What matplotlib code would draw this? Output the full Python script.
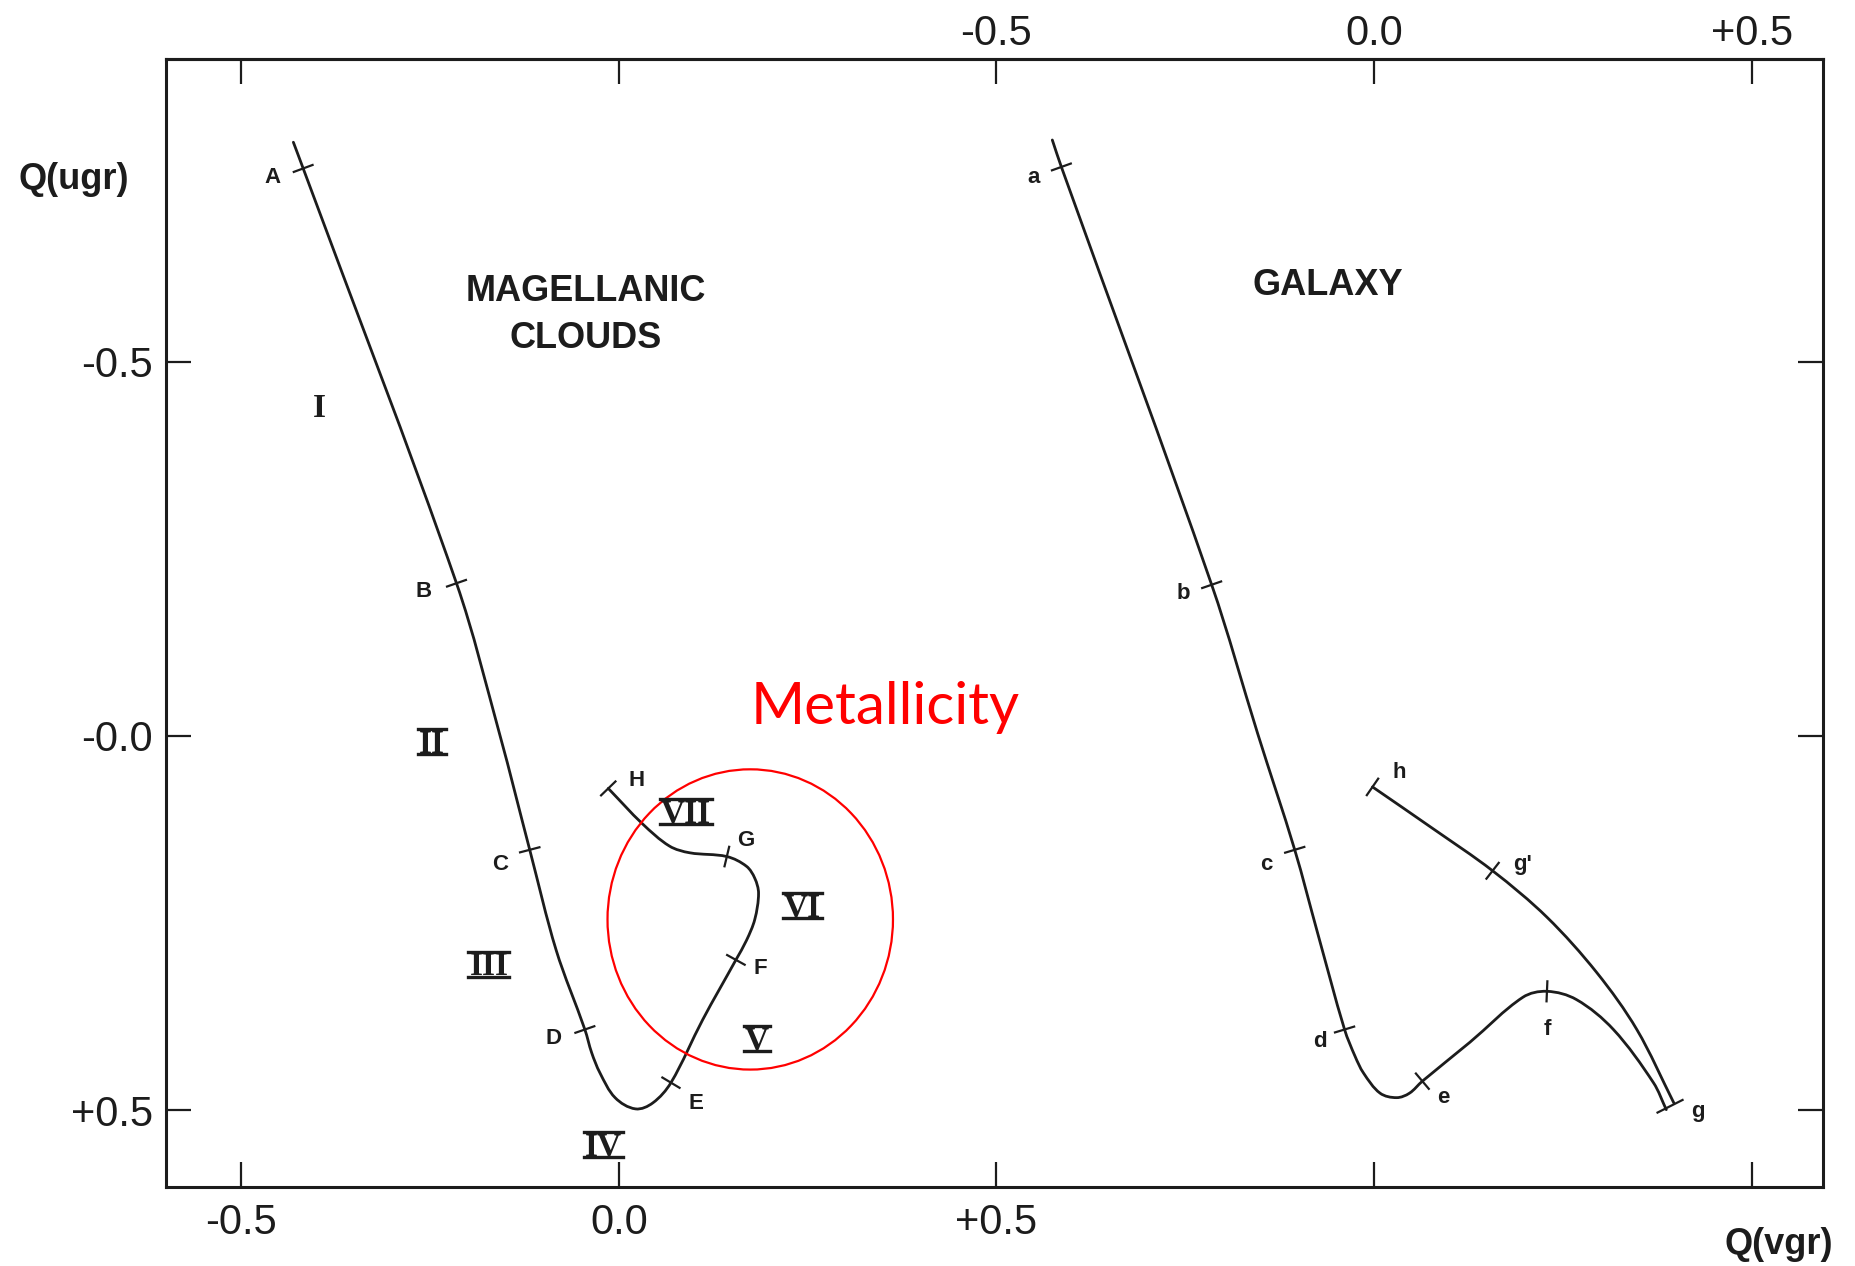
import numpy as np
import matplotlib.pyplot as plt
from matplotlib.patches import Ellipse, PathPatch
from matplotlib.path import Path
from matplotlib.lines import Line2D
from matplotlib import transforms

# Magellanic Clouds sequence (Q(vgr), Q(ugr))
mc_qvgr = [-0.431, -0.418, -0.215, -0.158, -0.118, -0.083,
           -0.045, -0.036, -0.025, -0.005, 0.022, 0.045, 0.069, 0.111, 0.155, 0.169,
           0.180, 0.185, 0.180, 0.169, 0.143, 0.094, 0.067, 0.031, -0.014]
mc_qugr = [-0.793, -0.758, -0.204, -0.003, 0.152, 0.286,
           0.392, 0.423, 0.450, 0.483, 0.498, 0.490, 0.463, 0.379, 0.299, 0.273,
           0.245, 0.210, 0.190, 0.174, 0.161, 0.156, 0.147, 0.117, 0.070]

# Galaxy sequence a -> g, and the branch g -> h
gal_qvgr = [0.574, 0.586, 0.785, 0.846, 0.895, 0.925, 0.961, 0.975, 0.986,
            1.008, 1.030, 1.047, 1.064, 1.127, 1.197, 1.229, 1.268, 1.317, 1.370, 1.387]
gal_qugr = [-0.796, -0.760, -0.202, -0.003, 0.152, 0.262, 0.392, 0.428, 0.450,
            0.477, 0.483, 0.477, 0.461, 0.409, 0.349, 0.341, 0.352, 0.392, 0.463, 0.499]
gal2_qvgr = [1.397, 1.348, 1.295, 1.229, 1.157, 1.077, 0.998]
gal2_qugr = [0.490, 0.392, 0.316, 0.242, 0.180, 0.123, 0.068]

# marked points on the curves
mc_marks = ['A', 'B', 'C', 'D', 'E', 'F', 'G', 'H']
mc_mark_x = [-0.418, -0.215, -0.118, -0.045, 0.069, 0.155, 0.143, -0.014]
mc_mark_y = [-0.758, -0.204, 0.152, 0.392, 0.463, 0.299, 0.161, 0.070]
mc_lab_x = [-0.459, -0.259, -0.157, -0.086, 0.102, 0.187, 0.168, 0.024]
mc_lab_y = [-0.746, -0.193, 0.171, 0.404, 0.491, 0.310, 0.139, 0.060]

gal_marks = ['a', 'b', 'c', 'd', 'e', 'f']
gal_mark_x = [0.586, 0.785, 0.895, 0.961, 1.064, 1.229]
gal_mark_y = [-0.760, -0.202, 0.152, 0.392, 0.461, 0.341]
gal_lab_x = [0.549, 0.748, 0.857, 0.928, 1.092, 1.230]
gal_lab_y = [-0.746, -0.190, 0.171, 0.408, 0.483, 0.392]

gal2_marks = ["g'", 'h']
gal2_mark_x = [1.157, 0.998]
gal2_mark_y = [0.180, 0.068]
gal2_lab_x = [1.197, 1.034]
gal2_lab_y = [0.171, 0.049]

# regions
roman = ['I', 'II', 'III', 'IV', 'V', 'VI', 'VII']
roman_x = [-0.397, -0.248, -0.172, -0.020, 0.183, 0.243, 0.089]
roman_y = [-0.441, 0.008, 0.305, 0.545, 0.404, 0.227, 0.101]

xticks = [-0.5, 0.0, 0.5, 1.0, 1.5]
xlabels_bottom = ['-0.5', '0.0', '+0.5', '', '']
xlabels_top = ['', '', '-0.5', '0.0', '+0.5']
yticks = [-0.5, 0.0, 0.5]
ylabels = ['-0.5', '-0.0', '+0.5']

ink = '#1c1c1c'
plt.rcParams['font.family'] = ['Liberation Sans', 'DejaVu Sans']

fig = plt.figure(figsize=(18.56, 12.66), dpi=100)
ax = fig.add_axes([0.0893, 0.0626, 0.8927, 0.8907])
ax.set_xlim(-0.600, 1.594)
ax.set_ylim(0.602, -0.904)

for s in ax.spines.values():
    s.set_linewidth(2.2)
    s.set_color(ink)

ax.set_xticks(xticks)
ax.set_xticklabels(xlabels_bottom)
ax.set_yticks(yticks)
ax.set_yticklabels(ylabels)
ax.tick_params(direction='in', length=18, width=1.6, color=ink, labelcolor=ink,
               labelsize=30, right=True, top=False)
ax.tick_params(axis='x', pad=12)
ax.tick_params(axis='y', pad=9)

sec = ax.secondary_xaxis('top')
sec.set_xticks(xticks)
sec.set_xticklabels(xlabels_top)
sec.tick_params(direction='in', length=18, width=1.6, color=ink, labelcolor=ink,
                labelsize=30, pad=4)
sec.spines['top'].set_linewidth(2.2)


def smooth_path(xs, ys):
    # smooth drawn line through the read points (cubic segments)
    p = np.column_stack([xs, ys])
    n = len(p)
    verts = [p[0]]
    codes = [Path.MOVETO]
    for i in range(n - 1):
        a, b, c, d = p[max(i - 1, 0)], p[i], p[i + 1], p[min(i + 2, n - 1)]
        seg = np.hypot(*(c - b))
        t1 = (c - a) / np.hypot(*(c - a))
        t2 = (d - b) / np.hypot(*(d - b))
        verts += [b + t1 * seg / 3, c - t2 * seg / 3, c]
        codes += [Path.CURVE4] * 3
    return Path(verts, codes)


for xs, ys in [(mc_qvgr, mc_qugr), (gal_qvgr, gal_qugr), (gal2_qvgr, gal2_qugr)]:
    ax.add_patch(PathPatch(smooth_path(xs, ys), fill=False, ec=ink, lw=2.0,
                           capstyle='round', joinstyle='round'))


def curve_tick(xs, ys, px, py, half=10, center=None):
    pts = ax.transData.transform(np.column_stack([xs, ys]))
    p = ax.transData.transform((px, py))
    i = np.argmin(np.hypot(*(pts - p).T))
    i0, i1 = max(i - 1, 0), min(i + 1, len(pts) - 1)
    t = pts[i1] - pts[i0]
    t = t / np.hypot(*t)
    n = np.array([-t[1], t[0]])
    if center is not None:
        p = ax.transData.transform(center)
    seg = ax.transData.inverted().transform(np.array([p - n * half, p + n * half]))
    ax.plot(seg[:, 0], seg[:, 1], color=ink, lw=1.6)


lab_kw = dict(ha='center', va='center', fontsize=16, fontweight='bold', color=ink)
for name, mx, my, lx, ly in zip(mc_marks, mc_mark_x, mc_mark_y, mc_lab_x, mc_lab_y):
    curve_tick(mc_qvgr, mc_qugr, mx, my)
    ax.text(lx, ly, name, **lab_kw)
for name, mx, my, lx, ly in zip(gal_marks, gal_mark_x, gal_mark_y, gal_lab_x, gal_lab_y):
    curve_tick(gal_qvgr, gal_qugr, mx, my)
    ax.text(lx, ly, name, **lab_kw)
for name, mx, my, lx, ly in zip(gal2_marks, gal2_mark_x, gal2_mark_y, gal2_lab_x, gal2_lab_y):
    curve_tick(gal2_qvgr, gal2_qugr, mx, my)
    ax.text(lx, ly, name, **lab_kw)

# bar closing both galaxy branches at g
g_mid = ((gal_qvgr[-1] + gal2_qvgr[0]) / 2, (gal_qugr[-1] + gal2_qugr[0]) / 2)
curve_tick(gal2_qvgr, gal2_qugr, gal2_qvgr[0], gal2_qugr[0], half=14, center=g_mid)
ax.text(1.429, 0.502, 'g', **lab_kw)

ax.text(-0.044, -0.562, 'MAGELLANIC\nCLOUDS', ha='center', va='center', fontsize=26,
        fontweight='bold', color=ink, linespacing=1.45)
ax.text(0.939, -0.601, 'GALAXY', ha='center', va='center', fontsize=26,
        fontweight='bold', color=ink)

# roman numerals (serif, with bars above and below)
rfs = 24
cap = 0.66 * rfs * fig.dpi / 72
roman_texts = []
for r, rx, ry in zip(roman, roman_x, roman_y):
    tr = transforms.offset_copy(ax.transData, fig, y=-cap / 2, units='dots')
    t = ax.text(rx, ry, r, transform=tr, ha='center', va='baseline', fontsize=rfs,
                fontweight='bold', family='Liberation Serif', color=ink)
    roman_texts.append((r, rx, ry, t))

fig.text(0.0395, 0.858, 'Q(ugr)', ha='center', va='center', fontsize=26,
         fontweight='bold', color=ink)
fig.text(0.9585, 0.0168, 'Q(vgr)', ha='center', va='center', fontsize=26,
         fontweight='bold', color=ink)

# red annotation
ax.add_patch(Ellipse((0.174, 0.245), 0.378, 0.401, fill=False, ec='red', lw=1.6))
ax.text(0.353, -0.038, 'Metallicity', ha='center', va='center', fontsize=42,
        family='Lato', color='red')

fig.canvas.draw()
inv = fig.transFigure.inverted()
for r, rx, ry, t in roman_texts:
    if r == 'I':
        continue
    bb = t.get_window_extent()
    yb = ax.transData.transform((rx, ry))[1] - cap / 2
    for yy in (yb - 1.5, yb + cap + 1.5):
        p = inv.transform([(bb.x0 - 1, yy), (bb.x1 + 1, yy)])
        fig.add_artist(Line2D(p[:, 0], p[:, 1], color=ink, lw=2.4,
                              transform=fig.transFigure))

fig.savefig('out.png', dpi=100, facecolor='white')
